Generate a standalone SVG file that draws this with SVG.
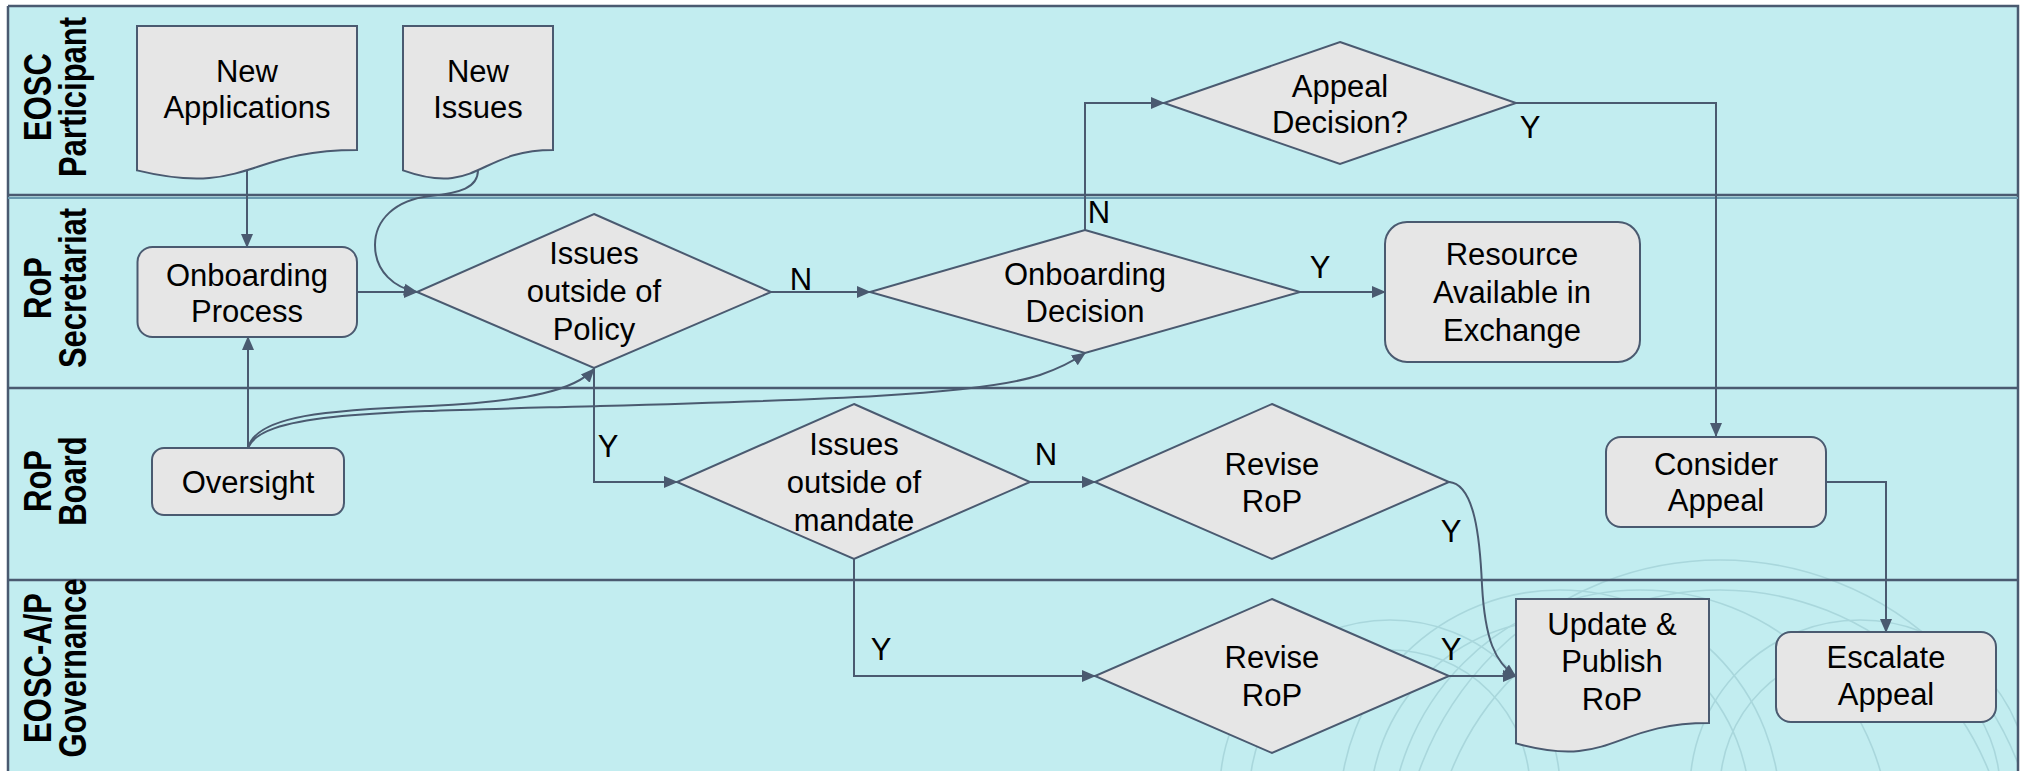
<svg xmlns="http://www.w3.org/2000/svg" width="2022" height="771" viewBox="0 0 2022 771">
<style>
.lane{fill:#c2edf0;}
.ln{stroke:#4a5a70;stroke-width:2.5;fill:none;}
.node{fill:#e6e6e6;stroke:#4a5a70;stroke-width:2;}
.t{font-family:"Liberation Sans",Arial,sans-serif;font-size:31px;fill:#000;text-anchor:middle;}
.h{font-family:"Liberation Sans",Arial,sans-serif;font-size:31px;font-weight:bold;fill:#000;text-anchor:middle;}
.c{fill:none;stroke:#4a5a70;stroke-width:2;}
.wm{fill:none;stroke:#a9d7dc;stroke-width:1.6;}
</style>
<defs>
<marker id="ah" markerUnits="userSpaceOnUse" markerWidth="14" markerHeight="14" viewBox="0 0 14 12" refX="13" refY="6" orient="auto">
<path d="M0,0 L14,6 L0,12 z" fill="#4a5a70"/>
</marker>
<clipPath id="clip"><rect x="9" y="7" width="2008" height="764"/></clipPath>
</defs>
<rect width="2022" height="771" fill="#ffffff"/>
<g id="lanes">
<rect class="lane" x="8" y="6" width="2010" height="765"/>
<g clip-path="url(#clip)">
<circle class="wm" cx="1720" cy="880" r="320"/>
<circle class="wm" cx="1720" cy="880" r="290"/>
<circle class="wm" cx="1390" cy="790" r="170"/>
<circle class="wm" cx="1390" cy="790" r="140"/>
<circle class="wm" cx="1860" cy="790" r="170"/>
<circle class="wm" cx="1860" cy="790" r="140"/>
<circle class="wm" cx="1560" cy="810" r="220"/>
<circle class="wm" cx="1560" cy="810" r="190"/>
<circle class="wm" cx="1640" cy="840" r="250"/>
</g>
<path class="ln" d="M8,6 H2018 V771 M8,6 V771"/>
<line x1="8" y1="195" x2="2018" y2="195" stroke="#4a5a70" stroke-width="2.5"/>
<line x1="8" y1="198" x2="2018" y2="198" stroke="#6a9bb0" stroke-width="2"/>
<line class="ln" x1="8" y1="388" x2="2018" y2="388"/>
<line class="ln" x1="8" y1="580" x2="2018" y2="580"/>
<text class="h" transform="translate(51,97) rotate(-90) scale(1,1.27)"><tspan x="0" y="0">EOSC</tspan><tspan x="0" y="27.5">Participant</tspan></text>
<text class="h" transform="translate(51,288) rotate(-90) scale(1,1.27)"><tspan x="0" y="0">RoP</tspan><tspan x="0" y="27.5">Secretariat</tspan></text>
<text class="h" transform="translate(51,481) rotate(-90) scale(1,1.27)"><tspan x="0" y="0">RoP</tspan><tspan x="0" y="27.5">Board</tspan></text>
<text class="h" transform="translate(51,668) rotate(-90) scale(1,1.27)"><tspan x="0" y="0">EOSC-A/P</tspan><tspan x="0" y="27.5">Governance</tspan></text>
</g>
<g id="connectors">
<path class="c" d="M247,170 V247" marker-end="url(#ah)"/>
<path class="c" d="M478,170 C478,188 460,193 430,196 C395,200 375,220 375,245 C375,272 395,288 417,292" marker-end="url(#ah)"/>
<path class="c" d="M357,292 H417" marker-end="url(#ah)"/>
<path class="c" d="M248,448 V337" marker-end="url(#ah)"/>
<path class="c" d="M248,448 C256,415 330,410 430,406 C530,401 575,390 594,369" marker-end="url(#ah)"/>
<path class="c" d="M248,448 C262,412 380,412 600,406 C820,400 980,395 1040,375 C1060,368 1075,360 1085,353" marker-end="url(#ah)"/>
<path class="c" d="M771,292 H870" marker-end="url(#ah)"/>
<path class="c" d="M1300,292 H1385" marker-end="url(#ah)"/>
<path class="c" d="M1085,230 V103 H1164" marker-end="url(#ah)"/>
<path class="c" d="M1516,103 H1716 V436" marker-end="url(#ah)"/>
<path class="c" d="M1826,482 H1886 V632" marker-end="url(#ah)"/>
<path class="c" d="M594,368 V482 H677" marker-end="url(#ah)"/>
<path class="c" d="M1030,482 H1095" marker-end="url(#ah)"/>
<path class="c" d="M854,559 V676 H1095" marker-end="url(#ah)"/>
<path class="c" d="M1449,482 C1475,484 1480,540 1482,585 C1485,640 1495,662 1516,677" marker-end="url(#ah)"/>
<path class="c" d="M1449,676 H1516" marker-end="url(#ah)"/>
<text class="t" x="801" y="290">N</text>
<text class="t" x="1099" y="223">N</text>
<text class="t" x="1320" y="278">Y</text>
<text class="t" x="1530" y="138">Y</text>
<text class="t" x="608" y="457">Y</text>
<text class="t" x="1046" y="465">N</text>
<text class="t" x="881" y="660">Y</text>
<text class="t" x="1451" y="542">Y</text>
<text class="t" x="1451" y="660">Y</text>
</g>
<g id="new-applications">
<path class="node" d="M137,26 H357 V150 C247,150 247,197 137,170.4 Z"/>
<text class="t" x="247" y="82">New</text>
<text class="t" x="247" y="118">Applications</text>
</g>
<g id="new-issues">
<path class="node" d="M403,26 H553 V150 C478,150 478,197 403,170.4 Z"/>
<text class="t" x="478" y="82">New</text>
<text class="t" x="478" y="118">Issues</text>
</g>
<g id="onboarding-process">
<rect class="node" x="137.5" y="247" width="219.5" height="90" rx="15"/>
<text class="t" x="247" y="286">Onboarding</text>
<text class="t" x="247" y="322">Process</text>
</g>
<g id="issues-policy">
<path class="node" d="M594,214 L771,292 L594,368 L417,292 Z"/>
<text class="t" x="594" y="264">Issues</text>
<text class="t" x="594" y="302">outside of</text>
<text class="t" x="594" y="340">Policy</text>
</g>
<g id="onboarding-decision">
<path class="node" d="M1085,230 L1300,292 L1085,353 L870,292 Z"/>
<text class="t" x="1085" y="285">Onboarding</text>
<text class="t" x="1085" y="322">Decision</text>
</g>
<g id="appeal-decision">
<path class="node" d="M1340,42 L1516,103 L1340,164 L1164,103 Z"/>
<text class="t" x="1340" y="97">Appeal</text>
<text class="t" x="1340" y="133">Decision?</text>
</g>
<g id="resource-available">
<rect class="node" x="1385" y="222" width="255" height="140" rx="22"/>
<text class="t" x="1512" y="265">Resource</text>
<text class="t" x="1512" y="303">Available in</text>
<text class="t" x="1512" y="341">Exchange</text>
</g>
<g id="oversight">
<rect class="node" x="152" y="448" width="192" height="67" rx="12"/>
<text class="t" x="248" y="493">Oversight</text>
</g>
<g id="issues-mandate">
<path class="node" d="M854,404 L1030,482 L854,559 L677,482 Z"/>
<text class="t" x="854" y="455">Issues</text>
<text class="t" x="854" y="493">outside of</text>
<text class="t" x="854" y="531">mandate</text>
</g>
<g id="revise-rop-board">
<path class="node" d="M1272,404 L1449,482 L1272,559 L1095,482 Z"/>
<text class="t" x="1272" y="475">Revise</text>
<text class="t" x="1272" y="512">RoP</text>
</g>
<g id="consider-appeal">
<rect class="node" x="1606" y="437" width="220" height="90" rx="15"/>
<text class="t" x="1716" y="475">Consider</text>
<text class="t" x="1716" y="511">Appeal</text>
</g>
<g id="revise-rop-gov">
<path class="node" d="M1272,599 L1449,676 L1272,753 L1095,676 Z"/>
<text class="t" x="1272" y="668">Revise</text>
<text class="t" x="1272" y="706">RoP</text>
</g>
<g id="update-publish">
<path class="node" d="M1516,599 H1709 V723 C1612,723 1612,770 1516,743.4 Z"/>
<text class="t" x="1612" y="635">Update &amp;</text>
<text class="t" x="1612" y="672">Publish</text>
<text class="t" x="1612" y="710">RoP</text>
</g>
<g id="escalate-appeal">
<rect class="node" x="1776" y="632" width="220" height="90" rx="15"/>
<text class="t" x="1886" y="668">Escalate</text>
<text class="t" x="1886" y="705">Appeal</text>
</g>
</svg>
